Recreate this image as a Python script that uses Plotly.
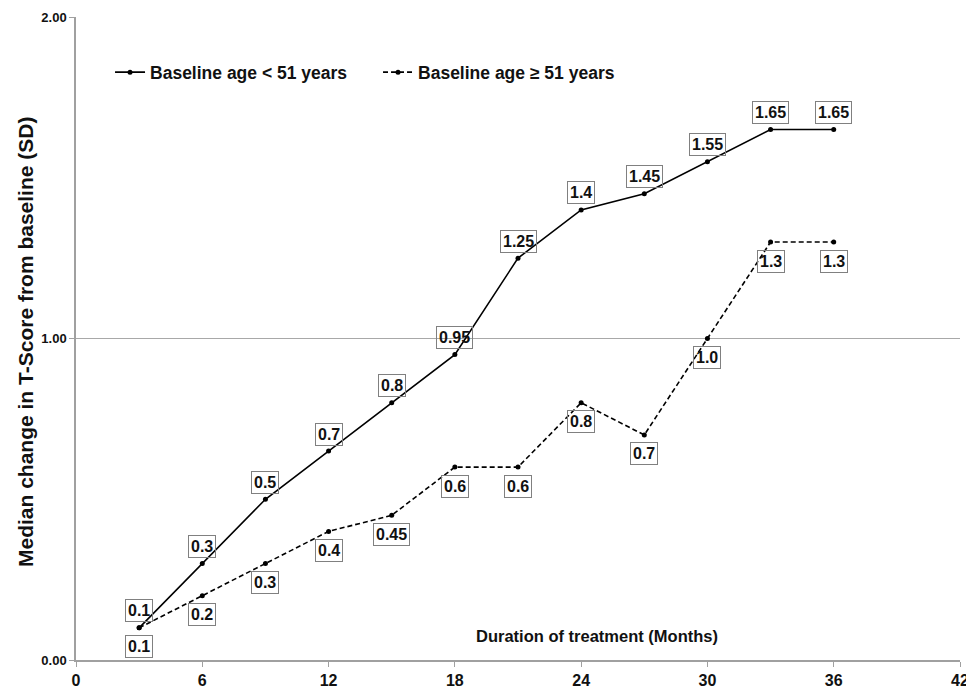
import plotly.graph_objects as go

months = [3, 6, 9, 12, 15, 18, 21, 24, 27, 30, 33, 36]
young_values = [0.10, 0.30, 0.50, 0.65, 0.80, 0.95, 1.25, 1.40, 1.45, 1.55, 1.65, 1.65]
young_labels = ["0.1", "0.3", "0.5", "0.7", "0.8", "0.95", "1.25", "1.4", "1.45", "1.55", "1.65", "1.65"]
old_values = [0.10, 0.20, 0.30, 0.40, 0.45, 0.60, 0.60, 0.80, 0.70, 1.00, 1.30, 1.30]
old_labels = ["0.1", "0.2", "0.3", "0.4", "0.45", "0.6", "0.6", "0.8", "0.7", "1.0", "1.3", "1.3"]
x_ticks = [0, 6, 12, 18, 24, 30, 36, 42]
y_ticks = [0, 1, 2]
y_tick_labels = ["0.00", "1.00", "2.00"]

FONT = "Liberation Sans, Arial, sans-serif"

fig = go.Figure()
fig.add_trace(go.Scatter(
    x=months, y=young_values, mode="lines+markers",
    name="<b>Baseline age &lt; 51 years</b>",
    line=dict(color="black", width=1.6),
    marker=dict(color="black", size=5),
))
fig.add_trace(go.Scatter(
    x=months, y=old_values, mode="lines+markers",
    name="<b>Baseline age ≥ 51 years</b>",
    line=dict(color="black", width=1.6, dash="5px,3px"),
    marker=dict(color="black", size=5),
))

annotations = []
for xv, yv, t in zip(months, young_values, young_labels):
    annotations.append(dict(
        x=xv, y=yv, xref="x", yref="y", text="<b>%s</b>" % t, showarrow=False,
        yshift=17, font=dict(family=FONT, size=16, color="#111"),
        bordercolor="#808080", borderwidth=1, borderpad=2,
    ))
for xv, yv, t in zip(months, old_values, old_labels):
    annotations.append(dict(
        x=xv, y=yv, xref="x", yref="y", text="<b>%s</b>" % t, showarrow=False,
        yshift=-19, font=dict(family=FONT, size=16, color="#111"),
        bordercolor="#808080", borderwidth=1, borderpad=2,
    ))
annotations.append(dict(
    x=24.75, y=0.075, xref="x", yref="y", text="<b>Duration of treatment (Months)</b>",
    showarrow=False, font=dict(family=FONT, size=16.5, color="#111"),
))
annotations.append(dict(
    x=-51 / 884, y=(660 - 342) / 643, xref="paper", yref="paper",
    xanchor="center", yanchor="middle",
    text="<b>Median change in T-Score from baseline (SD)</b>", textangle=-90,
    showarrow=False, font=dict(family=FONT, size=21, color="#111"),
))

fig.update_layout(
    width=966, height=682,
    margin=dict(l=68, r=14, t=9, b=30, autoexpand=False),
    plot_bgcolor="white", paper_bgcolor="white",
    font=dict(family=FONT, color="#111"),
    showlegend=True,
    legend=dict(
        orientation="h", x=0.0385, y=0.914, xanchor="left", yanchor="middle",
        font=dict(family=FONT, size=17.5, color="#111"),
        bgcolor="rgba(0,0,0,0)", entrywidth=223, entrywidthmode="pixels",
    ),
    annotations=annotations,
    xaxis=dict(
        range=[0, 42], tickvals=x_ticks, ticktext=["<b>%d</b>" % v for v in x_ticks],
        showgrid=False, zeroline=False, showline=True, linecolor="#a0a0a0", linewidth=1.5,
        ticks="outside", ticklen=5, tickcolor="#a0a0a0", automargin=False,
        tickfont=dict(family=FONT, size=16, color="#111"),
    ),
    yaxis=dict(
        range=[0, 2], tickvals=y_ticks, ticktext=["<b>%s</b>" % t for t in y_tick_labels],
        showgrid=True, gridcolor="#a8a8a8", gridwidth=1.2, zeroline=False,
        showline=True, linecolor="#a0a0a0", linewidth=1.5, automargin=False,
        ticks="outside", ticklen=5, tickcolor="#a0a0a0",
        tickfont=dict(family=FONT, size=13, color="#111"),
    ),
)

fig.write_html("out.html")
